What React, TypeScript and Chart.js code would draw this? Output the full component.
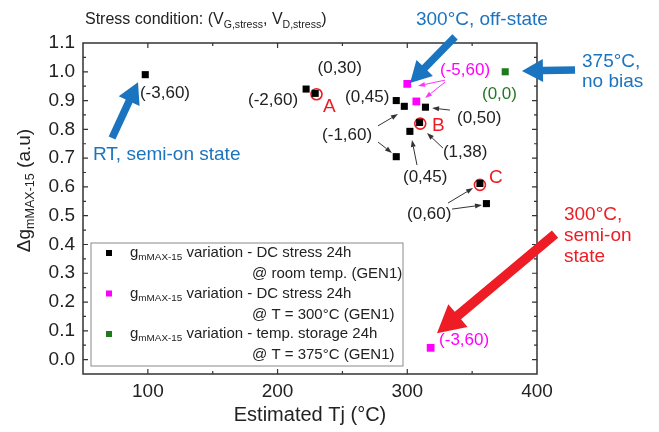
import React, { useEffect, useRef } from "react";
import { Chart, registerables } from "chart.js";

Chart.register(...registerables);

const FONT = "'Liberation Sans', Arial, Helvetica, sans-serif";
const DARK = "#222222";
const BLUE = "#1b74bf";
const RED = "#ee1c24";
const MAGENTA = "#ff00ff";
const GREEN = "#1f7a1f";

// ---- data (Estimated Tj °C, Δg_mMAX-15) ----
const roomTempX = [98, 222, 229, 291.5, 297.7, 314, 309.5, 302, 291.5, 356, 361];
const roomTempY = [0.99, 0.94, 0.925, 0.9, 0.88, 0.877, 0.824, 0.793, 0.705, 0.612, 0.542];
const hot300X = [300, 307, 318];
const hot300Y = [0.958, 0.897, 0.041];
const storageX = [375.5];
const storageY = [1.0];
const circleX = [230, 310, 356];
const circleY = [0.922, 0.82, 0.607];

// axis ranges / ticks
const xMin = 50;
const xMax = 400;
const xStep = 50;
const yMin = -0.05;
const yMax = 1.1;
const yStep = 0.05;

// point labels: text, x, y (data), colour, size
const labelTexts = ["(-3,60)", "(0,30)", "(-2,60)", "(0,45)", "(-1,60)", "(0,45)", "(0,50)", "(1,38)", "(0,60)", "(-5,60)", "(-3,60)", "(0,0)", "A", "B", "C"];
const labelX = [93.9, 230.8, 177.2, 252.0, 234.3, 296.7, 338.3, 327.5, 299.8, 325.2, 324.5, 357.6, 235.0, 319.1, 363.0];
const labelY = [0.926, 1.013, 0.902, 0.912, 0.78, 0.634, 0.839, 0.721, 0.506, 1.006, 0.068, 0.923, 0.878, 0.812, 0.631];
const labelColor = [DARK, DARK, DARK, DARK, DARK, DARK, DARK, DARK, DARK, MAGENTA, MAGENTA, GREEN, RED, RED, RED];
const labelSize = [17, 17, 17, 17, 17, 17, 17, 17, 17, 17, 17, 17, 19, 19, 19];

// callouts
const calloutTexts = ["300°C, off-state", "375°C,", "no bias", "RT, semi-on state", "300°C,", "semi-on", "state"];
const calloutX = [306.7, 434.7, 434.7, 57.7, 420.8, 420.8, 420.8];
const calloutY = [1.18, 1.034, 0.964, 0.711, 0.502, 0.429, 0.356];
const calloutColor = [BLUE, BLUE, BLUE, BLUE, RED, RED, RED];

// big arrows: tail -> tip (data coords)
const bigArrowX1 = [336.8, 429.3, 72.4, 413.9];
const bigArrowY1 = [1.121, 1.006, 0.77, 0.436];
const bigArrowX2 = [302.1, 388.4, 92.4, 322.9];
const bigArrowY2 = [0.961, 1.003, 0.964, 0.092];
const bigArrowColor = [BLUE, BLUE, BLUE, RED];
const bigArrowScale = [1, 1, 1, 1.3];

// thin arrows: tail -> tip (data coords)
const thinX1 = [277.4, 277.4, 307.5, 327.5, 332.9, 334.5, 331.4, 329.1, 329.1];
const thinY1 = [0.812, 0.756, 0.676, 0.735, 0.867, 0.523, 0.544, 0.971, 0.964];
const thinX2 = [292.8, 288.2, 303.6, 315.2, 319.1, 357.6, 350.7, 308.3, 313.7];
const thinY2 = [0.853, 0.718, 0.763, 0.787, 0.874, 0.537, 0.596, 0.951, 0.909];
const thinColor = ["#333", "#333", "#333", "#333", "#333", "#333", "#333", "#ff33ff", "#ff33ff"];

// legend
const legendColors = ["#000000", MAGENTA, GREEN];
const legendLine1 = [" variation - DC stress 24h", " variation - DC stress 24h", " variation - temp. storage 24h"];
const legendLine2 = ["@ room temp. (GEN1)", "@ T = 300°C (GEN1)", "@ T = 375°C (GEN1)"];

type Part = [string, boolean];

function drawRich(ctx: CanvasRenderingContext2D, parts: Part[], x: number, y: number, size: number, color: string, align: "left" | "center" = "left") {
  ctx.fillStyle = color;
  ctx.textBaseline = "middle";
  ctx.textAlign = "left";
  let total = 0;
  for (const [t, sub] of parts) {
    ctx.font = `${sub ? size * 0.66 : size}px ${FONT}`;
    total += ctx.measureText(t).width;
  }
  let cx = align === "center" ? x - total / 2 : x;
  for (const [t, sub] of parts) {
    const fs = sub ? size * 0.66 : size;
    ctx.font = `${fs}px ${FONT}`;
    ctx.fillText(t, cx, sub ? y + size * 0.3 : y);
    cx += ctx.measureText(t).width;
  }
}

function bigArrow(ctx: CanvasRenderingContext2D, x1: number, y1: number, x2: number, y2: number, w: number, hl: number, hw: number, color: string) {
  const dx = x2 - x1, dy = y2 - y1;
  const L = Math.hypot(dx, dy);
  const ux = dx / L, uy = dy / L;
  const nx = -uy, ny = ux;
  const bx = x2 - ux * hl, by = y2 - uy * hl;
  ctx.fillStyle = color;
  ctx.beginPath();
  ctx.moveTo(x1 + (nx * w) / 2, y1 + (ny * w) / 2);
  ctx.lineTo(bx + (nx * w) / 2, by + (ny * w) / 2);
  ctx.lineTo(bx + (nx * hw) / 2, by + (ny * hw) / 2);
  ctx.lineTo(x2, y2);
  ctx.lineTo(bx - (nx * hw) / 2, by - (ny * hw) / 2);
  ctx.lineTo(bx - (nx * w) / 2, by - (ny * w) / 2);
  ctx.lineTo(x1 - (nx * w) / 2, y1 - (ny * w) / 2);
  ctx.closePath();
  ctx.fill();
}

function thinArrow(ctx: CanvasRenderingContext2D, x1: number, y1: number, x2: number, y2: number, color: string) {
  const dx = x2 - x1, dy = y2 - y1;
  const L = Math.hypot(dx, dy);
  const ux = dx / L, uy = dy / L;
  const nx = -uy, ny = ux;
  const hl = 7, hw = 5;
  const bx = x2 - ux * hl, by = y2 - uy * hl;
  ctx.strokeStyle = color;
  ctx.fillStyle = color;
  ctx.lineWidth = 1;
  ctx.beginPath();
  ctx.moveTo(x1, y1);
  ctx.lineTo(bx, by);
  ctx.stroke();
  ctx.beginPath();
  ctx.moveTo(x2, y2);
  ctx.lineTo(bx + (nx * hw) / 2, by + (ny * hw) / 2);
  ctx.lineTo(bx - (nx * hw) / 2, by - (ny * hw) / 2);
  ctx.closePath();
  ctx.fill();
}

const overlayPlugin = {
  id: "overlay",
  afterDatasetsDraw(chart: any) {
    const ctx: CanvasRenderingContext2D = chart.ctx;
    const xs = chart.scales.x;
    const ys = chart.scales.y;
    const a = chart.chartArea;
    const px = (v: number) => xs.getPixelForValue(v);
    const py = (v: number) => ys.getPixelForValue(v);
    ctx.save();

    // frame
    ctx.strokeStyle = "#333";
    ctx.lineWidth = 1.5;
    ctx.strokeRect(a.left, a.top, a.right - a.left, a.bottom - a.top);

    // inward ticks on all four sides
    ctx.lineWidth = 1.2;
    for (const t of xs.ticks) {
      const v = t.value;
      const x = px(v);
      if (x <= a.left + 1 || x >= a.right - 1) continue;
      const len = Math.abs(v % 100) < 1e-6 ? 5 : 3;
      ctx.beginPath();
      ctx.moveTo(x, a.bottom);
      ctx.lineTo(x, a.bottom - len);
      ctx.moveTo(x, a.top);
      ctx.lineTo(x, a.top + len);
      ctx.stroke();
    }
    for (const t of ys.ticks) {
      const v = t.value;
      const y = py(v);
      if (y <= a.top + 1 || y >= a.bottom - 1) continue;
      const major = Math.abs(Math.round(v * 10) - v * 10) < 1e-6;
      const len = major ? 5 : 3;
      ctx.beginPath();
      ctx.moveTo(a.left, y);
      ctx.lineTo(a.left + len, y);
      ctx.moveTo(a.right, y);
      ctx.lineTo(a.right - len, y);
      ctx.stroke();
    }

    // legend box
    const lx = a.left + 8, ly = 243, lw = 312, lh = 123;
    ctx.fillStyle = "#ffffff";
    ctx.fillRect(lx, ly, lw, lh);
    ctx.strokeStyle = "#8a8a8a";
    ctx.lineWidth = 1;
    ctx.strokeRect(lx, ly, lw, lh);
    for (let i = 0; i < 3; i++) {
      const y1 = ly + 10 + i * 40.5;
      ctx.fillStyle = legendColors[i];
      ctx.fillRect(lx + 15, y1 - 3, 6, 6);
      drawRich(ctx, [["g", false], ["mMAX-15", true], [legendLine1[i], false]], lx + 39, y1, 15, DARK);
      drawRich(ctx, [[legendLine2[i], false]], lx + 161, y1 + 21, 15, DARK);
    }

    // thin arrows
    for (let i = 0; i < thinX1.length; i++) {
      thinArrow(ctx, px(thinX1[i]), py(thinY1[i]), px(thinX2[i]), py(thinY2[i]), thinColor[i]);
    }

    // big arrows
    for (let i = 0; i < bigArrowX1.length; i++) {
      const s = bigArrowScale[i];
      bigArrow(ctx, px(bigArrowX1[i]), py(bigArrowY1[i]), px(bigArrowX2[i]), py(bigArrowY2[i]), 7.5 * s, 21 * s, 23 * s, bigArrowColor[i]);
    }

    // point labels
    for (let i = 0; i < labelTexts.length; i++) {
      drawRich(ctx, [[labelTexts[i], false]], px(labelX[i]), py(labelY[i]), labelSize[i], labelColor[i]);
    }
    // callouts
    for (let i = 0; i < calloutTexts.length; i++) {
      drawRich(ctx, [[calloutTexts[i], false]], px(calloutX[i]), py(calloutY[i]), 19, calloutColor[i]);
    }

    // top title
    drawRich(
      ctx,
      [["Stress condition: (V", false], ["G,stress", true], [", V", false], ["D,stress", true], [")", false]],
      a.left + 2,
      20,
      16,
      DARK
    );

    // x axis title
    drawRich(ctx, [["Estimated Tj (°C)", false]], (a.left + a.right) / 2, 415, 20, DARK, "center");

    // y axis title (rotated)
    ctx.save();
    ctx.translate(25, (a.top + a.bottom) / 2 - 18);
    ctx.rotate(-Math.PI / 2);
    drawRich(ctx, [["Δg", false], ["mMAX-15", true], [" (a.u)", false]], 0, 0, 19, DARK, "center");
    ctx.restore();

    ctx.restore();
  },
};

export default function App() {
  const ref = useRef<HTMLCanvasElement | null>(null);
  useEffect(() => {
    if (!ref.current) return;
    const toPts = (xs: number[], ys: number[]) => xs.map((x, i) => ({ x, y: ys[i] }));
    const chart = new Chart(ref.current, {
      type: "scatter",
      data: {
        datasets: [
          {
            label: "room temp",
            data: toPts(roomTempX, roomTempY),
            pointStyle: "rect",
            pointRadius: 5,
            backgroundColor: "#000000",
            borderColor: "#000000",
            borderWidth: 0,
          },
          {
            label: "300C",
            data: toPts(hot300X, hot300Y),
            pointStyle: "rect",
            pointRadius: 5.5,
            backgroundColor: MAGENTA,
            borderColor: MAGENTA,
            borderWidth: 0,
          },
          {
            label: "375C",
            data: toPts(storageX, storageY),
            pointStyle: "rect",
            pointRadius: 5,
            backgroundColor: GREEN,
            borderColor: GREEN,
            borderWidth: 0,
          },
          {
            label: "circles",
            data: toPts(circleX, circleY),
            pointStyle: "circle",
            pointRadius: 5.5,
            backgroundColor: "rgba(0,0,0,0)",
            borderColor: RED,
            borderWidth: 1.6,
          },
        ],
      },
      options: {
        animation: false,
        responsive: true,
        maintainAspectRatio: false,
        layout: { padding: { top: 43, right: 122, left: 0, bottom: 0 } },
        plugins: { legend: { display: false }, tooltip: { enabled: false } },
        scales: {
          x: {
            type: "linear",
            min: xMin,
            max: xMax,
            afterFit: (s: any) => {
              s.height = 58;
            },
            grid: { display: false, drawTicks: false },
            border: { display: false },
            ticks: {
              stepSize: xStep,
              autoSkip: false,
              maxRotation: 0,
              padding: 6,
              color: DARK,
              font: { size: 19, family: FONT },
              callback: (v: any) => (Math.abs(Number(v) % 100) < 1e-6 ? String(v) : ""),
            },
          },
          y: {
            type: "linear",
            min: yMin,
            max: yMax,
            afterFit: (s: any) => {
              s.width = 83;
            },
            grid: { display: false, drawTicks: false },
            border: { display: false },
            ticks: {
              stepSize: yStep,
              autoSkip: false,
              padding: 8,
              color: DARK,
              font: { size: 19, family: FONT },
              callback: (v: any) => {
                const n = Number(v);
                return Math.abs(Math.round(n * 10) - n * 10) < 1e-6 && n > -0.01 ? n.toFixed(1) : "";
              },
            },
          },
        },
      },
      plugins: [overlayPlugin],
    });
    return () => chart.destroy();
  }, []);
  return (
    <div style={{ position: "fixed", left: 0, top: 0, width: 659, height: 432, background: "#fff" }}>
      <canvas ref={ref} />
    </div>
  );
}
